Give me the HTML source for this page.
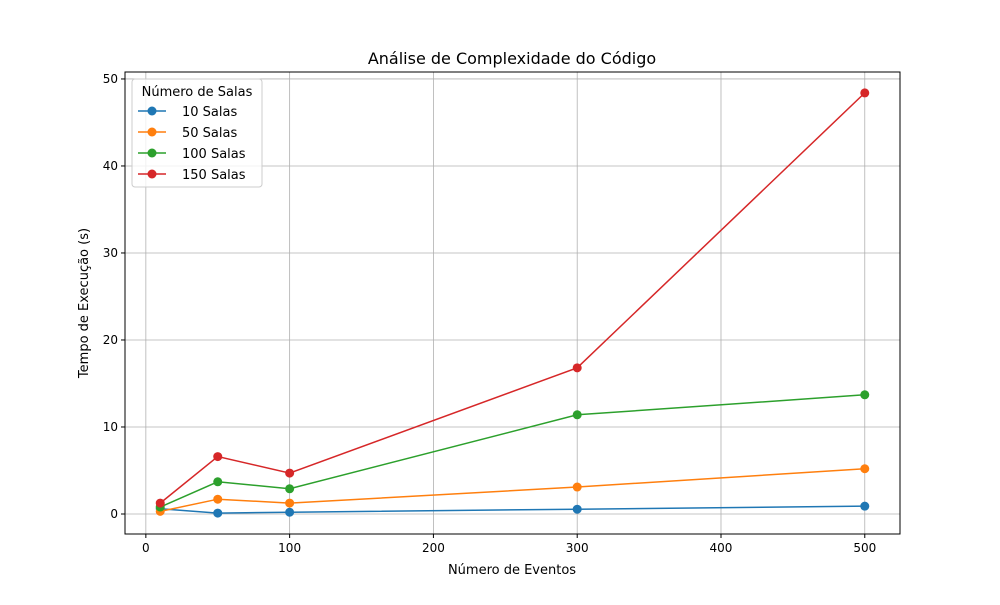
<!DOCTYPE html>
<html><head><meta charset="utf-8"><style>
body{margin:0;background:#fff;font-family:"Liberation Sans","DejaVu Sans",sans-serif}
svg text{font-family:"DejaVu Sans","Liberation Sans",sans-serif}
</style></head><body>
<svg id="chart" width="1000" height="600" xmlns="http://www.w3.org/2000/svg">
<rect width="1000" height="600" fill="#fff"/>
<g id="grid"></g>
<g id="series"></g>
<rect x="125" y="72" width="775" height="462" fill="none" stroke="#000" stroke-width="1"/>
<g id="ticks"></g>
<text x="512" y="64" text-anchor="middle" font-size="16">Análise de Complexidade do Código</text>
<text x="512" y="574" text-anchor="middle" font-size="13">Número de Eventos</text>
<text transform="translate(88,303) rotate(-90)" text-anchor="middle" font-size="13">Tempo de Execução (s)</text>
<g id="legend"></g>
</svg>
<script>
const categories=[10,50,100,300,500];
const seriesNames=["10 Salas","50 Salas","100 Salas","150 Salas"];
const s10=[0.6,0.1,0.2,0.55,0.9];
const s50=[0.3,1.7,1.25,3.1,5.2];
const s100=[0.8,3.7,2.9,11.4,13.7];
const s150=[1.25,6.6,4.7,16.8,48.4];
const xTicks=[0,100,200,300,400,500];
const yTicks=[0,10,20,30,40,50];
const colors=["#1f77b4","#ff7f0e","#2ca02c","#d62728"];
const NS="http://www.w3.org/2000/svg";
const X0=125,X1=900,Y0=534,Y1=72,xmin=-14.5,xmax=524.5,ymin=-2.3,ymax=50.8;
const xs=v=>X0+(v-xmin)/(xmax-xmin)*(X1-X0);
const ys=v=>Y0-(v-ymin)/(ymax-ymin)*(Y0-Y1);
function mk(tag,attrs,parent){const e=document.createElementNS(NS,tag);for(const k in attrs)e.setAttribute(k,attrs[k]);parent.appendChild(e);return e;}
const grid=document.getElementById('grid'),ticks=document.getElementById('ticks');
xTicks.forEach(t=>{const x=xs(t);
 let l=mk('line',{x1:x,x2:x,y1:Y1,y2:Y0,stroke:'#b0b0b0','stroke-width':0.8},grid);
 
 let tk=mk('line',{x1:x,x2:x,y1:Y0,y2:Y0+4,stroke:'#000'},ticks);
 
 let tx=mk('text',{x:x,y:Y0+18,'text-anchor':'middle','font-size':12},ticks);tx.textContent=t;
 });
yTicks.forEach(t=>{const y=ys(t);
 let l=mk('line',{x1:X0,x2:X1,y1:y,y2:y,stroke:'#b0b0b0','stroke-width':0.8},grid);
 
 let tk=mk('line',{x1:X0-4,x2:X0,y1:y,y2:y,stroke:'#000'},ticks);
 
 let tx=mk('text',{x:X0-7,y:y+4,'text-anchor':'end','font-size':12},ticks);tx.textContent=t;
 });
const all=[s10,s50,s100,s150];const sg=document.getElementById('series');
all.forEach((s,i)=>{
 const g=mk('g',{},sg);
 const p=mk('polyline',{points:s.map((v,j)=>xs(categories[j])+','+ys(v)).join(' '),fill:'none',stroke:colors[i],'stroke-width':1.5},g);
 
 s.forEach((v,j)=>{const c=mk('circle',{cx:xs(categories[j]),cy:ys(v),r:4.5,fill:colors[i]},g);
  });
});
const lg=document.getElementById('legend');
const box=mk('rect',{x:132,y:79,width:130,height:108,rx:3,fill:'#fff','fill-opacity':0.8,stroke:'#ccc'},lg);

const lt=mk('text',{x:197,y:96,'text-anchor':'middle','font-size':13},lg);lt.textContent='Número de Salas';

seriesNames.forEach((n,i)=>{const y=111+i*21;
 const e=mk('g',{},lg);
 mk('line',{x1:138,x2:166,y1:y,y2:y,stroke:colors[i],'stroke-width':1.5},e);
 mk('circle',{cx:152,cy:y,r:4.5,fill:colors[i]},e);
 const t=mk('text',{x:182,y:y+5,'font-size':13},e);t.textContent=n;});
</script>
</body></html>
